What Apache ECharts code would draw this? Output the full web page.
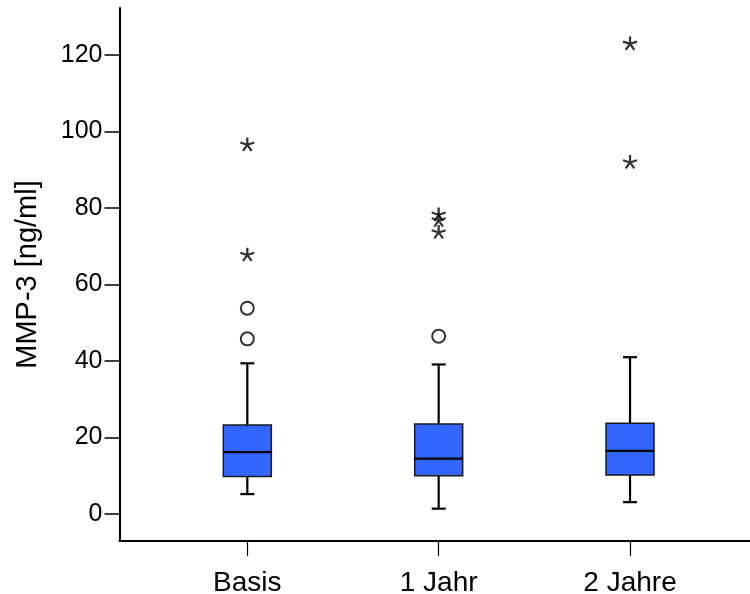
<!DOCTYPE html>
<html><head><meta charset="utf-8">
<script src="https://cdn.jsdelivr.net/npm/echarts@6/dist/echarts.min.js"></script>
<style>html,body{margin:0;padding:0;background:#fff}#c{width:750px;height:594px}</style>
</head><body><div id="c"></div>
<script>
const categories = ['Basis', '1 Jahr', '2 Jahre'];
const whiskerLow = [5.2, 1.4, 3.1];
const quartile1 = [9.8, 10.0, 10.2];
const medians = [16.2, 14.5, 16.5];
const quartile3 = [23.3, 23.5, 23.7];
const whiskerHigh = [39.4, 39.1, 41.0];
// [category index, value]
const circleOutliers = [[0, 53.8], [0, 45.8], [1, 46.5]];
const starOutliers = [[0, 96.7], [0, 67.9], [1, 78.4], [1, 76.9], [1, 73.8], [2, 123.1], [2, 92.1]];
const yTicks = [0, 20, 40, 60, 80, 100, 120];
const xTicks = [1, 2, 3];

const boxData = categories.map((c, i) => [i + 1, whiskerLow[i], quartile1[i], medians[i], quartile3[i], whiskerHigh[i]]);
const circleData = circleOutliers.map(d => [d[0] + 1, d[1]]);
const starData = starOutliers.map(d => [d[0] + 1, d[1]]);

const FONT = 'Liberation Sans, Arial, sans-serif';
const chart = echarts.init(document.getElementById('c'), null, {renderer: 'canvas'});

function renderBox(params, api) {
  const x = api.value(0);
  const pLo = api.coord([x, api.value(1)]);
  const pQ1 = api.coord([x, api.value(2)]);
  const pMed = api.coord([x, api.value(3)]);
  const pQ3 = api.coord([x, api.value(4)]);
  const pHi = api.coord([x, api.value(5)]);
  const cx = pMed[0];
  const hw = 24, cw = 7;
  const lineStyle = {stroke: '#000', lineWidth: 2.2};
  return {
    type: 'group',
    children: [
      {type: 'line', shape: {x1: cx, y1: pLo[1], x2: cx, y2: pQ1[1]}, style: lineStyle},
      {type: 'line', shape: {x1: cx, y1: pQ3[1], x2: cx, y2: pHi[1]}, style: lineStyle},
      {type: 'line', shape: {x1: cx - cw, y1: pLo[1], x2: cx + cw, y2: pLo[1]}, style: lineStyle},
      {type: 'line', shape: {x1: cx - cw, y1: pHi[1], x2: cx + cw, y2: pHi[1]}, style: lineStyle},
      {type: 'rect', shape: {x: cx - hw, y: pQ3[1], width: 2 * hw, height: pQ1[1] - pQ3[1]},
        style: {fill: '#3366ff', stroke: '#1a1a1a', lineWidth: 1.5}},
      {type: 'line', shape: {x1: cx - hw, y1: pMed[1], x2: cx + hw, y2: pMed[1]}, style: lineStyle}
    ]
  };
}

const starPath = 'path://M0,0L0,-10M0,0L9.51,-3.09M0,0L5.88,8.09M0,0L-5.88,8.09M0,0L-9.51,-3.09';

chart.setOption({
  animation: false,
  backgroundColor: '#fff',
  grid: {left: 119.5, top: 8, right: 0, bottom: 53, containLabel: false, outerBoundsMode: 'none'},
  xAxis: {
    type: 'value', min: 0.332, max: 3.627,
    axisLine: {show: true, onZero: false, lineStyle: {color: '#000', width: 2}},
    axisTick: {show: true, length: 15, customValues: xTicks, lineStyle: {color: '#000', width: 1.2}},
    axisLabel: {customValues: xTicks, margin: 28, fontSize: 28, color: '#000', fontFamily: FONT,
      formatter: v => categories[Math.round(v) - 1] || ''},
    splitLine: {show: false}
  },
  yAxis: {
    type: 'value', min: -7.06, max: 132.3,
    axisLine: {show: true, lineStyle: {color: '#000', width: 2}},
    axisTick: {show: true, length: 15, customValues: yTicks, lineStyle: {color: '#000', width: 1.5}},
    axisLabel: {customValues: yTicks, margin: 17, fontSize: 25, color: '#000', fontFamily: FONT},
    splitLine: {show: false},
    name: 'MMP-3 [ng/ml]', nameLocation: 'middle', nameGap: 77,
    nameTextStyle: {fontSize: 29, color: '#000', fontFamily: FONT}
  },
  series: [
    {
      type: 'custom', renderItem: renderBox, data: boxData,
      encode: {x: 0, y: [1, 2, 3, 4, 5]}, z: 2
    },
    {
      type: 'scatter', data: circleData, symbol: 'emptyCircle', symbolSize: 13,
      itemStyle: {color: '#000', borderColor: '#000', borderWidth: 1.6}, z: 3
    },
    {
      type: 'scatter', data: starData, symbol: starPath, symbolSize: [14, 13.3],
      itemStyle: {color: '#000', borderColor: '#000', borderWidth: 2.2}, z: 3
    }
  ]
});
</script>
</body></html>
